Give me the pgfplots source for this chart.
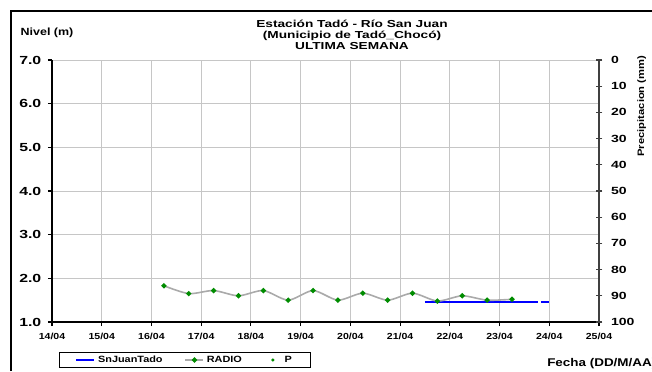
\documentclass[border=0pt]{standalone}
\usepackage{pgfplots}
\pgfplotsset{compat=1.18}
\usepackage{fontspec}
\setmainfont{Liberation Sans}[FakeStretch=1.2]
\newfontfamily\wide{Liberation Sans}[FakeStretch=1.35]
\definecolor{radiogray}{RGB}{170,170,170}
\definecolor{ptgreen}{RGB}{0,140,0}
\definecolor{axgray}{RGB}{64,64,64}
\begin{document}
\begin{tikzpicture}
\useasboundingbox (-39pt,-36.75pt) rectangle (450pt,241.5pt);
\begin{axis}[
  at={(0pt,0pt)}, anchor=south west,
  scale only axis, width=410.25pt, height=196.5pt,
  xmin=14, xmax=25, ymin=1, ymax=7,
  axis x line*=bottom, axis y line*=left,
  axis line style={-, black, line width=0.8pt},
  xtick={14,...,25},
  xticklabels={14/04,15/04,16/04,17/04,18/04,19/04,20/04,21/04,22/04,23/04,24/04,25/04},
  ytick={1,2,...,7},
  /pgf/number format/assume math mode=true,
  yticklabel style={/pgf/number format/.cd, fixed, fixed zerofill, precision=1, /tikz/.cd, font=\wide\bfseries\fontsize{8.8}{9}\selectfont, xshift=-1.5pt},
  xticklabel style={font=\bfseries\fontsize{6.6}{7}\selectfont, yshift=-2pt},
  tick align=outside, major tick length=3pt,
  tick style={black, line width=0.8pt},
  grid=major, major grid style={gray!45, line width=0.7pt},
  legend columns=3,
  legend style={at={(axis description cs:0.243,-0.145)}, anchor=center, draw=black, line width=0.6pt,
    font=\bfseries\fontsize{6.8}{7.5}\selectfont, inner xsep=12pt, inner ysep=0.3pt,
    /tikz/every even column/.append style={column sep=14.5pt}},
  legend cell align=left,
]
\addplot[blue, line width=1.6pt, legend image code/.code={\draw[blue, line width=1.6pt] (0pt,0pt) -- (13.5pt,0pt);}]
  coordinates {(21.5,1.46) (23.77,1.46)

  (23.83,1.46) (24.0,1.46)};
\addlegendentry{SnJuanTado}
\addplot[radiogray, line width=1.2pt, smooth, tension=0.45,
  mark=*, mark size=1.3pt, mark options={ptgreen, draw=ptgreen, fill=ptgreen},
  legend image code/.code={\draw[radiogray, line width=1.2pt] (0pt,0pt) -- (13.5pt,0pt);
    \fill[ptgreen] (6.75pt,0pt) circle (1.3pt);}]
  coordinates {
  (16.25,1.83) (16.75,1.65) (17.25,1.72) (17.75,1.60) (18.25,1.72)
  (18.75,1.50) (19.25,1.72) (19.75,1.50) (20.25,1.66) (20.75,1.50)
  (21.25,1.66) (21.75,1.48) (22.25,1.60) (22.75,1.50) (23.25,1.52)};
\addlegendentry{RADIO}
\addlegendimage{draw=none, legend image code/.code={\path[draw=none, fill=none] (0pt,0pt) -- (13.5pt,0pt); \fill[ptgreen, draw=none] (6.75pt,0pt) circle (1.3pt);}}
\addlegendentry{P}
\end{axis}
\begin{axis}[
  at={(0pt,0pt)}, anchor=south west,
  scale only axis, width=410.25pt, height=196.5pt,
  xmin=14, xmax=25, ymin=0, ymax=100, y dir=reverse,
  axis x line=none, axis y line*=right,
  axis line style={-, axgray, line width=1.3pt},
  ytick={0,10,...,100},
  /pgf/number format/assume math mode=true,
  yticklabel style={font=\wide\bfseries\fontsize{7.8}{8}\selectfont, xshift=3pt},
  tick align=center, major tick length=5pt,
  tick style={axgray, line width=0.8pt},
  ylabel={Precipitacion (mm)},
  ylabel style={font=\bfseries\fontsize{7}{8}\selectfont, at={(axis description cs:1.078,0.824)}, anchor=center},
]
\addplot[draw=none, forget plot] coordinates {(20,50)};
\end{axis}
\node[font=\wide\bfseries\fontsize{7.6}{8.2}\selectfont, align=center] at (225pt,215.5pt)
  {Estación Tadó - Río San Juan\\(Municipio de Tadó\_Chocó)\\ULTIMA SEMANA};
\node[font=\bfseries\fontsize{7.8}{8}\selectfont] at (-3.75pt,216.75pt) {Nivel (m)};
\node[font=\bfseries\fontsize{8.4}{9}\selectfont, anchor=west, inner sep=0pt] at (371.25pt,-31.5pt) {Fecha (DD/M/AA)};
\draw[black, line width=1.9pt] (-30.75pt,-36.75pt) -- (-30.75pt,233.25pt) -- (450pt,233.25pt);
\end{tikzpicture}
\end{document}
